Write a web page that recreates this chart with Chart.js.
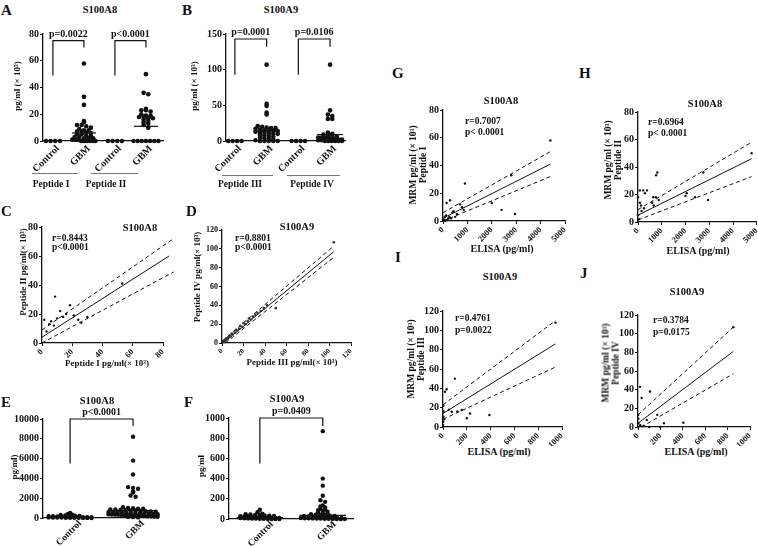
<!DOCTYPE html>
<html>
<head>
<meta charset="utf-8">
<script src="https://cdn.jsdelivr.net/npm/chart.js@4.4.1/dist/chart.umd.min.js"></script>
<style>
    body { margin: 0; background: #fff; width: 758px; height: 546px; position: relative; overflow: hidden; }
    canvas { position: absolute; }
    .t { position: absolute; font-family: "Liberation Serif", "DejaVu Serif", serif; font-weight: bold; color: #111; white-space: nowrap; line-height: 1; }
    .rule { position: absolute; border-top: 1.5px solid #777; height: 0; }
</style>
</head>
<body>
<script>
// ---- column scatter data (A, B): pg/ml (x 10^3) ----
const colLabels = ['Control', 'GBM', 'Control', 'GBM'];
const pepI_ctrl = [0, 0, 0, 0];
const pepI_gbm = [58, 33, 27, 15, 14, 12, 12, 11, 10, 9, 8, 8, 7, 7, 6, 6, 5, 5, 4, 4, 3, 3, 2, 2, 2, 1, 1, 1, 0, 0, 0, 0, 0, 0];
const pepII_ctrl = [0, 0, 0, 0];
const pepII_gbm = [50, 36, 35, 24, 23, 23, 22, 20, 19, 19, 18, 18, 17, 17, 16, 15, 14, 13, 12, 10, 0, 0, 0, 0, 0, 0, 0];
const medA = [null, 6, null, 11];
const pepIII_ctrl = [0, 0, 0, 0];
const pepIII_gbm = [107, 52, 49, 40, 37, 21, 20, 19, 18, 18, 17, 16, 15, 15, 14, 14, 13, 12, 12, 11, 10, 10, 9, 8, 7, 6, 5, 4, 3, 2, 1, 0, 0, 0, 0, 0];
const pepIV_ctrl = [0, 0, 0, 0];
const pepIV_gbm = [107, 43, 37, 35, 31, 31, 12, 10, 9, 8, 7, 6, 5, 5, 4, 4, 3, 3, 2, 2, 1, 1, 0, 0, 0, 0, 0, 0];
const medB = [null, 14, null, 9];

// ---- ELISA data (E, F): pg/ml ----
const elisaLabels = ['Control', 'GBM'];
const a8_ctrl = [520, 380, 330, 300, 270, 250, 220, 200, 190, 170, 150, 140, 130, 120, 110, 100, 90, 80, 70, 60, 50, 50, 40, 30, 30, 20, 20, 10, 10, 0];
const a8_gbm = [8200, 5800, 4400, 3120, 3040, 2960, 2690, 2580, 2270, 2140, 1080, 1010, 990, 940, 930, 870, 860, 820, 790, 760, 750, 710, 690, 660, 640, 610, 590, 570, 540, 520, 510, 480, 470, 450, 430, 410, 390, 370, 360, 340, 330, 310, 290, 280, 260, 250, 230, 210, 200, 180, 170, 150, 130, 110, 90, 60];
const medE = [60, 750];
const a9_ctrl = [92, 68, 52, 47, 44, 41, 38, 35, 33, 30, 28, 25, 22, 21, 19, 17, 15, 14, 12, 11, 10, 9, 7, 6, 5, 4, 3, 2, 1, 0, 0, 0];
const a9_gbm = [870, 400, 330, 230, 185, 170, 135, 125, 115, 100, 95, 88, 80, 72, 65, 58, 52, 47, 43, 40, 37, 33, 30, 28, 25, 22, 20, 18, 16, 14, 12, 11, 9, 8, 7, 6, 5, 4, 3, 2, 1, 0, 0, 0];
const medF = [15, 35];

// significance brackets: x1/x2 = categories, yL/yR = leg ends, yTop = bar
const brA = [{ x1: 1, x2: 2, yL: 49, yTop: 75, yR: 70, label: 'p=0.0022' }, { x1: 3, x2: 4, yL: 49, yTop: 75, yR: 70, label: 'p<0.0001' }];
const brB = [{ x1: 1, x2: 2, yL: 93, yTop: 143, yR: 132, label: 'p=0.0001' }, { x1: 3, x2: 4, yL: 93, yTop: 143, yR: 132, label: 'p=0.0106' }];
const brE = [{ x1: 1, x2: 2, yL: 5500, yTop: 10000, yR: 9300, label: 'p<0.0001' }];
const brF = [{ x1: 1, x2: 2, yL: 550, yTop: 1000, yR: 920, label: 'p=0.0409' }];

// ---- correlation data (C, D) ----
const C_x = [1.5, 3, 4.8, 6, 7.9, 8.6, 10, 12, 14, 16, 18.5, 21, 24, 26, 30, 53];
const C_y = [16, 8, 13, 15, 12, 32, 17, 22, 18, 20, 26, 19, 16, 14, 18, 41];
const C_fit = [[0, 4], [84, 60]];
const C_hi = [[0, 9], [87, 72]];
const C_lo = [[0, 0], [87, 49]];
const D_x = [1, 2, 3, 4, 5, 6, 7, 8, 9, 10, 12, 13, 14, 16, 17, 19, 20, 22, 24, 25, 27, 29, 31, 33, 36, 39, 42, 50, 104];
const D_y = [2, 1, 3, 5, 4, 6, 8, 7, 10, 9, 11, 14, 13, 15, 18, 17, 21, 20, 23, 26, 25, 28, 30, 32, 34, 37, 40, 37, 107];
const D_fit = [[1, 0], [104, 97]];
const D_hi = [[0, 2], [104, 103]];
const D_lo = [[3, 0], [104, 91]];

// ---- MRM vs ELISA (G-J) ----
const G_x = [4400, 2800, 900, 2400, 2000, 2950, 150, 290, 780, 850, 700, 430, 570, 80, 220, 0, 40, 120, 180, 260, 330, 380, 500, 60, 100];
const G_y = [58, 33, 27, 8, 13, 5, 13, 15, 10, 8, 12, 7, 5, 3, 2, 1, 0.5, 4, 1, 3, 2, 6, 3, 1, 0];
const G_fit = [[0, 2], [4400, 41]];
const G_hi = [[0, 6], [4400, 50]];
const G_lo = [[0, 0], [4400, 32]];
const H_x = [4780, 2950, 2750, 2050, 2000, 2400, 810, 760, 640, 750, 870, 80, 220, 380, 290, 0, 80, 130, 250, 600, 660, 0, 40, 150];
const H_y = [50, 16, 36, 21, 19, 18, 36, 34, 18, 18, 16, 23, 23, 23, 21, 18, 14, 12, 10, 14, 12, 5, 2, 8];
const H_fit = [[0, 5], [4780, 46]];
const H_hi = [[0, 9], [4780, 58]];
const H_lo = [[0, 1.5], [4780, 33]];
const I_x = [945, 31, 17, 100, 3, 5, 4, 2, 73, 200, 227, 390, 157, 50, 120, 0, 10];
const I_y = [108, 39, 36.5, 50, 22, 16, 10.6, 5.5, 15.8, 9, 14, 12.4, 17.6, 18, 16, 2, 8];
const I_fit = [[0, 14], [945, 86]];
const I_hi = [[0, 23], [945, 110]];
const I_lo = [[0, 8], [945, 62]];
const J_x = [851, 18, 33, 107, 3, 3, 3, 78, 172, 232, 405, 200, 100, 20, 50, 0];
const J_y = [107, 43, 31, 38, 13, 9, 4, 7.5, 13, 4, 4.6, 0, 0, 2, 1, 0];
const J_fit = [[0, 4], [851, 81]];
const J_hi = [[0, 13], [851, 107]];
const J_lo = [[30, 0], [851, 57]];

const SERIF = '"Liberation Serif", "DejaVu Serif", serif';
const INK = '#111';
Chart.defaults.font.family = SERIF;
Chart.defaults.color = INK;
Chart.defaults.animation = false;
Chart.defaults.events = [];
Chart.defaults.plugins.legend.display = false;
Chart.defaults.plugins.tooltip.enabled = false;

// p-value text above each bracket
Chart.register({
    id: 'pvals',
    afterDatasetsDraw(chart, args, opts) {
        const items = opts.items || [];
        if (!items.length) return;
        const ctx = chart.ctx, xs = chart.scales.x, ys = chart.scales.y;
        ctx.save();
        ctx.font = 'bold 10px ' + SERIF;
        ctx.fillStyle = INK;
        ctx.textAlign = 'center';
        ctx.textBaseline = 'bottom';
        items.forEach(b => {
            const cx = (xs.getPixelForValue(b.x1) + xs.getPixelForValue(b.x2)) / 2;
            ctx.fillText(b.label, cx, ys.getPixelForValue(b.yTop) - 1.5);
        });
        ctx.restore();
    }
});

function pts(xs, ys) { return xs.map((x, i) => ({ x, y: ys[i] })); }
function pairs(arr) { return arr.map(p => ({ x: p[0], y: p[1] })); }

// spread points of one column side by side when their values are close,
// squeezing a row when it would get wider than maxUnits
function swarm(values, cat, binUnits, stepUnits, maxUnits) {
    const bins = {};
    values.forEach(v => {
        const k = Math.round(v / binUnits);
        (bins[k] = bins[k] || []).push(v);
    });
    const out = [];
    Object.values(bins).forEach(list => {
        const n = list.length;
        const step = n > 1 ? Math.min(stepUnits, maxUnits / (n - 1)) : 0;
        list.forEach((v, i) => out.push({ x: cat + (i - (n - 1) / 2) * step, y: v }));
    });
    return out;
}

function dots(data, r, color) {
    return { data, pointRadius: r, pointBackgroundColor: color || INK, pointBorderColor: color || INK, pointBorderWidth: 0, showLine: false, clip: false };
}
function path(data, dash, w) {
    return { data, showLine: true, pointRadius: 0, borderColor: INK, borderWidth: w || 1, borderDash: dash || [], fill: false, tension: 0, clip: false };
}
function bracketPaths(list) {
    return list.map(b => path([{ x: b.x1, y: b.yL }, { x: b.x1, y: b.yTop }, { x: b.x2, y: b.yTop }, { x: b.x2, y: b.yR }], [], 1.2));
}
function medianPaths(meds, half) {
    return meds.map((m, i) => m === null ? null : path([{ x: i + 1 - half, y: m }, { x: i + 1 + half, y: m }], [], 1.2)).filter(Boolean);
}

function linAxis(min, max, step, size, rotate) {
    const ax = {
        type: 'linear', min, max,
        ticks: { stepSize: step, color: INK, font: { size, weight: 'bold' }, padding: 1, autoSkip: false, callback: v => String(v) },
        grid: { drawOnChartArea: false, drawTicks: true, tickLength: 3, color: INK, lineWidth: 1 },
        border: { color: INK, width: 1.3 }
    };
    if (rotate) { ax.ticks.minRotation = 45; ax.ticks.maxRotation = 45; }
    return ax;
}
function catAxis(labels, min, max, size, shift, pad) {
    return {
        type: 'linear', min, max,
        afterBuildTicks: s => { s.ticks = labels.map((_, i) => ({ value: i + 1 })); },
        ticks: { callback: v => labels[v - 1], minRotation: 45, maxRotation: 45, autoSkip: false, color: INK, font: { size, weight: 'bold' }, padding: pad === undefined ? 2 : pad, labelOffset: shift || 0 },
        grid: { display: false, drawTicks: false },
        border: { color: INK, width: 1.3 }
    };
}

// box = canvas rectangle on the page, area = wanted plot rectangle on the page
function makeChart(box, area, xScale, yScale, datasets, brackets) {
    const cv = document.createElement('canvas');
    cv.width = box.w;
    cv.height = box.h;
    cv.style.left = box.x + 'px';
    cv.style.top = box.y + 'px';
    cv.style.width = box.w + 'px';
    cv.style.height = box.h + 'px';
    document.body.appendChild(cv);
    const yW = area.l - box.x;
    const xH = box.y + box.h - area.b;
    yScale.afterFit = s => { s.width = yW; };
    xScale.afterFit = s => { s.height = xH; };
    return new Chart(cv, {
        type: 'scatter',
        data: { datasets },
        options: {
            responsive: false,
            devicePixelRatio: 1,
            layout: { padding: { left: 0, bottom: 0, top: area.t - box.y, right: box.x + box.w - area.r } },
            scales: { x: xScale, y: yScale },
            plugins: { pvals: { items: brackets || [] } }
        }
    });
}

function text(str, x, y, size, align) {
    const d = document.createElement('div');
    d.className = 't';
    d.innerHTML = str;
    d.style.fontSize = size + 'px';
    d.style.left = x + 'px';
    d.style.top = y + 'px';
    if (align === 'c') d.style.transform = 'translateX(-50%)';
    document.body.appendChild(d);
    return d;
}
function vtext(str, cx, cy, size) {
    const d = text(str, cx, cy, size);
    d.style.textAlign = 'center';
    d.style.lineHeight = '1.1';
    d.style.transform = 'translate(-50%, -50%) rotate(-90deg)';
    return d;
}
function rule(x1, x2, y) {
    const d = document.createElement('div');
    d.className = 'rule';
    d.style.left = x1 + 'px';
    d.style.top = y + 'px';
    d.style.width = (x2 - x1) + 'px';
    document.body.appendChild(d);
}

// ---- A ----
makeChart({ x: 0, y: 22, w: 175, h: 153 }, { l: 43, t: 34, r: 163, b: 141 },
    catAxis(colLabels, 0.68, 4.55, 10, 5), linAxis(0, 80, 20, 10),
    [
        dots(swarm(pepI_ctrl, 1, 2.2, 0.15, 0.75), 2.3), dots(swarm(pepI_gbm, 2, 2.2, 0.15, 0.75), 2.3),
        dots(swarm(pepII_ctrl, 3, 2.2, 0.15, 0.75), 2.3), dots(swarm(pepII_gbm, 4, 2.2, 0.15, 0.8), 2.3),
        ...medianPaths(medA, 0.39), ...bracketPaths(brA)
    ], brA);

// ---- B ----
makeChart({ x: 180, y: 22, w: 175, h: 153 }, { l: 226, t: 34, r: 345, b: 141 },
    catAxis(colLabels, 0.72, 4.47, 10, 5), linAxis(0, 150, 50, 10),
    [
        dots(swarm(pepIII_ctrl, 1, 4, 0.14, 0.75), 2.3), dots(swarm(pepIII_gbm, 2, 4, 0.14, 0.75), 2.3),
        dots(swarm(pepIV_ctrl, 3, 4, 0.14, 0.75), 2.3), dots(swarm(pepIV_gbm, 4, 4, 0.14, 0.75), 2.3),
        ...medianPaths(medB, 0.41), ...bracketPaths(brB)
    ], brB);

// ---- C ----
makeChart({ x: 0, y: 215, w: 182, h: 150 }, { l: 42, t: 227, r: 163, b: 343 },
    linAxis(0, 80, 20, 8.5, true), linAxis(0, 80, 20, 10),
    [dots(pts(C_x, C_y), 1.2), path(pairs(C_fit), [], 1), path(pairs(C_hi), [4, 3], 1), path(pairs(C_lo), [4, 3], 1)]);

// ---- D ----
makeChart({ x: 182, y: 215, w: 185, h: 150 }, { l: 222, t: 230, r: 351, b: 343 },
    linAxis(0, 120, 20, 7, true), linAxis(0, 120, 20, 8),
    [dots(pts(D_x, D_y), 1.3, '#333'), path(pairs(D_fit), [], 1), path(pairs(D_hi), [4, 3], 1), path(pairs(D_lo), [4, 3], 1)]);

// ---- E ----
makeChart({ x: 0, y: 400, w: 175, h: 146 }, { l: 43, t: 419, r: 157, b: 518 },
    catAxis(elisaLabels, 0.57, 2.38, 9.5, 10, 0), linAxis(0, 10000, 2000, 10),
    [
        dots(swarm(a8_ctrl, 1, 130, 0.075, 0.68), 2.2), dots(swarm(a8_gbm, 2, 250, 0.08, 0.78), 2.2),
        ...medianPaths(medE, 0.37), ...bracketPaths(brE)
    ], brE);

// ---- F ----
makeChart({ x: 180, y: 400, w: 185, h: 146 }, { l: 229, t: 418, r: 353, b: 519 },
    catAxis(elisaLabels, 0.51, 2.48, 9.5, 12, 0), linAxis(0, 1000, 200, 10),
    [
        dots(swarm(a9_ctrl, 1, 20, 0.075, 0.62), 2.2), dots(swarm(a9_gbm, 2, 20, 0.075, 0.7), 2.2),
        ...medianPaths(medF, 0.37), ...bracketPaths(brF)
    ], brF);

// ---- G-J ----
function corrPanel(box, area, xMax, xStep, yMax, yStep, xs, ys, fit, hi, lo) {
    makeChart(box, area, linAxis(0, xMax, xStep, 8.5, true), linAxis(0, yMax, yStep, 10),
        [dots(pts(xs, ys), 1.2), path(pairs(fit), [], 1), path(pairs(hi), [4, 3], 1), path(pairs(lo), [4, 3], 1)]);
}
corrPanel({ x: 395, y: 95, w: 185, h: 150 }, { l: 443, t: 110, r: 565, b: 221 }, 5000, 1000, 80, 20, G_x, G_y, G_fit, G_hi, G_lo);
corrPanel({ x: 590, y: 95, w: 175, h: 150 }, { l: 638, t: 112, r: 757, b: 222 }, 5000, 1000, 80, 20, H_x, H_y, H_fit, H_hi, H_lo);
corrPanel({ x: 395, y: 290, w: 185, h: 156 }, { l: 443, t: 311, r: 562, b: 427 }, 1000, 200, 120, 20, I_x, I_y, I_fit, I_hi, I_lo);
corrPanel({ x: 590, y: 290, w: 175, h: 156 }, { l: 638, t: 315, r: 750, b: 427 }, 1000, 200, 120, 20, J_x, J_y, J_fit, J_hi, J_lo);

// ---- texts ----
[['A', 1, 3], ['B', 182, 3], ['C', 1, 204], ['D', 186, 204], ['E', 1, 395], ['F', 184, 395],
 ['G', 392, 66], ['H', 579, 66], ['I', 395, 250], ['J', 580, 266]].forEach(l => text(l[0], l[1], l[2], 15));

[['S100A8', 100, 5], ['S100A9', 281, 5], ['S100A8', 140, 223], ['S100A9', 297, 222], ['S100A8', 97, 396],
 ['S100A9', 287, 394], ['S100A8', 501, 96], ['S100A8', 705, 99], ['S100A9', 500, 272], ['S100A9', 687, 287]]
    .forEach(t => text(t[0], t[1], t[2], 10.5, 'c'));

[['r=0.8443<br>p<0.0001', 52, 234, 8.5], ['r=0.8801<br>p<0.0001', 235, 234, 8.5],
 ['r=0.7007<br>p< 0.0001', 465, 116, 11], ['r=0.6964<br>p< 0.0001', 648, 117, 10.5],
 ['r=0.4761<br>p=0.0022', 455, 312, 12], ['r=0.3784<br>p=0.0175', 653, 314, 12]]
    .forEach(t => { const d = text(t[0].replace('p<', 'p&lt;'), t[1], t[2], 9.5); d.style.lineHeight = t[3] + 'px'; });

text('Peptide I pg/ml(× 10³)', 107, 359, 9, 'c');
text('Peptide III pg/ml(× 10³)', 292, 358, 9, 'c');
[[502, 244], [698, 246], [499, 447], [696, 447]].forEach(p => text('ELISA (pg/ml)', p[0], p[1], 10, 'c'));

vtext('pg/ml (× 10³)', 18, 86, 9);
vtext('pg/ml (× 10³)', 195, 86, 9);
vtext('Peptide II pg/ml(× 10³)', 24, 272, 9);
vtext('Peptide IV pg/ml(× 10³)', 198, 277, 9);
vtext('pg/ml)', 15, 467, 9);
vtext('pg/ml', 202, 466, 9);
vtext('MRM pg/ml (× 10³)<br>Peptide I', 418, 165, 9.5);
vtext('MRM pg/ml (× 10³)<br>Peptide II', 613, 160, 9.5);
vtext('MRM pg/ml (× 10³)<br>Peptide III', 416, 359, 9.5);
vtext('MRM pg/ml (× 10³)<br>Peptide IV', 611, 363, 9.5);

rule(32, 78, 173); rule(91, 138, 173);
rule(222, 273, 175); rule(287, 340, 175);
text('Peptide I', 51, 180, 9.5, 'c');
text('Peptide II', 106, 180, 9.5, 'c');
text('Peptide III', 240, 180, 9.5, 'c');
text('Peptide IV', 312, 180, 9.5, 'c');
</script>
</body>
</html>
